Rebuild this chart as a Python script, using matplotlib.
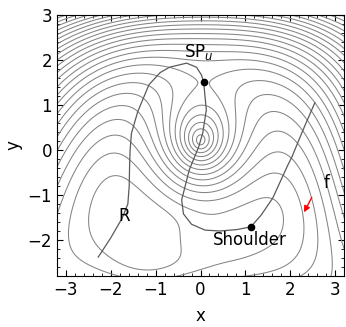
import numpy as np
import matplotlib
matplotlib.use("Agg")
import matplotlib.pyplot as plt
from matplotlib.ticker import MultipleLocator

# ---- potential level readings (x, y, level index counted up from minimum R) ----
lev_pts = [
    (-1.75, -1.50, 0.0), (-1.00, -1.60, 0.7), (-2.00, -1.00, 0.6),
    # first closed contour around R
    (-0.58, -1.95, 1), (-1.72, -2.44, 1), (-2.62, -1.33, 1), (-2.10, -0.51, 1), (-1.28, -1.04, 1),
    # second contour (through the shoulder valley, open to the bottom edge)
    (-2.26, -2.80, 2), (-2.93, -1.49, 2), (-2.55, -0.38, 2), (-2.10, -0.11, 2), (-1.60, -0.30, 2),
    (-0.80, -1.00, 2), (0.00, -1.27, 2), (1.40, -1.00, 2), (1.81, -1.60, 2), (1.10, -2.24, 2),
    (-0.50, -2.78, 2),
    # valley floor / shoulder
    (0.00, -2.00, 1.5), (1.12, -1.71, 1.7), (0.50, -1.80, 1.6), (-0.30, -2.30, 1.6),
    (-0.35, -1.90, 1.3),
    # bottom edge
    (-1.70, -2.80, 1.5), (-1.00, -2.80, 1.7), (0.50, -2.80, 2.5),
    # outer contours near the bottom
    (-2.75, -2.80, 3), (-3.09, -1.33, 3), (-2.70, -0.29, 3), (1.34, -2.80, 3), (2.28, -1.44, 3),
    (-3.05, -2.80, 4), (2.00, -2.80, 4), (2.73, -1.44, 4),
    (2.66, -2.80, 5), (3.04, -1.44, 5), (3.00, -2.80, 6),
    # central hill and saddle
    (0.00, 0.20, 15.4), (0.05, 1.50, 7.0), (0.00, -0.90, 4.0),
    (-0.90, 0.20, 7.0), (0.90, 0.20, 7.0),
    # top wall along x = 0
    (0.00, 1.73, 8), (0.00, 1.96, 9), (0.00, 2.27, 11), (0.00, 2.60, 14), (0.00, 2.84, 17),
    (0.00, 3.00, 19.3),
    # top edge
    (-1.00, 3.00, 19.8), (-1.75, 3.00, 21), (-2.50, 3.00, 22.5), (-3.20, 3.00, 24),
    (1.00, 3.00, 19.8), (1.75, 3.00, 21), (2.50, 3.00, 22.5), (3.20, 3.00, 24),
    # upper band
    (-2.00, 2.50, 16.5), (2.00, 2.50, 16.5), (-2.50, 2.00, 14.5), (2.50, 2.00, 15),
    (-1.00, 2.20, 11.5), (1.00, 2.20, 11.5),
    # left edge
    (-3.20, 2.50, 20.5), (-3.20, 2.00, 16.5), (-3.20, 1.00, 11), (-3.20, 0.00, 5.5),
    (-3.20, -1.40, 3.3), (-3.20, -2.80, 4.5),
    # right edge
    (3.20, 2.50, 20.5), (3.20, 2.00, 17), (3.20, 1.00, 13.5), (3.20, 0.00, 10.5), (3.20, -0.80, 7),
    (3.20, -1.44, 5.5), (3.20, -2.80, 6.4),
    # ring valley around the hill
    (-1.60, 0.00, 2.7), (-1.55, 0.50, 3.6), (-1.40, 0.90, 4.5), (-1.15, 1.45, 5.8),
    (-1.00, 1.50, 5.5), (1.00, 1.50, 5.0), (1.40, 0.00, 4.5),
    (2.20, 0.00, 7), (2.80, 0.00, 9.2), (-2.35, 1.00, 8.2),
]
pts_x = [p[0] for p in lev_pts]
pts_y = [p[1] for p in lev_pts]
pts_v = [p[2] for p in lev_pts]
# stationary points: R (minimum), SP_u (saddle)
stat_x = [-1.75, 0.07]
stat_y = [-1.50, 1.51]

# ---- paths (Newton trajectories) ----
pathA_x = [-2.28, -2.00, -1.75, -1.62, -1.59, -1.58, -1.57, -1.54, -1.40, -1.15, -0.90, -0.69,
           -0.31, -0.09, 0.02, 0.07, 0.13, 0.05, -0.04, -0.25, -0.42, -0.38, -0.20, 0.10,
           0.43, 0.80, 1.12]
pathA_y = [-2.38, -1.95, -1.52, -1.20, -0.80, -0.30, 0.00, 0.37, 0.85, 1.45, 1.72, 1.84,
           1.93, 1.84, 1.67, 1.51, 0.89, 0.38, 0.07, -0.44, -1.11, -1.42, -1.65, -1.78,
           -1.80, -1.77, -1.71]
pathB_x = [2.55, 2.31, 2.04, 1.95, 1.61, 1.35, 1.12]
pathB_y = [1.05, 0.50, -0.15, -0.33, -1.07, -1.45, -1.71]

sp_pt = (0.07, 1.51)
sh_pt = (1.12, -1.71)
arrow_tail = (2.51, -1.00)
arrow_head = (2.28, -1.44)

# ---- smooth model surface fitted to the readings ----
def basis(x, y):
    x = np.asarray(x, float); y = np.asarray(y, float)
    cols = []
    for d in range(5):
        for i in range(d + 1):
            cols.append(x**i * y**(d - i))
    rho = np.sqrt(x**2 / 1.0**2 + (y - 0.2)**2 / 1.15**2 + 0.004)
    gR = np.exp(-((x + 1.75)**2 + (y + 1.5)**2) / (2 * 0.55**2))
    gS = np.exp(-((x - 1.3)**2 + (y + 1.9)**2) / (2 * 0.5**2))
    gB = np.exp(-((x + 1.2)**2 / (2 * 0.7**2) + (y + 2.8)**2 / (2 * 0.45**2)))
    gV = np.exp(-((x - 0.2)**2 / (2 * 0.6**2) + (y + 2.0)**2 / (2 * 0.35**2)))
    cols += [rho, gR, gS, gB, gV]
    return np.stack(cols, axis=-1)

vals = np.array(pts_v, float)
w = np.where(vals <= 3.0, 3.0, 1.0)
rows = [basis(pts_x, pts_y) * w[:, None]]
rhs = [vals * w]
h = 1e-4
sx = np.array(stat_x); sy = np.array(stat_y)
gx = (basis(sx + h, sy) - basis(sx - h, sy)) / (2 * h)
gy = (basis(sx, sy + h) - basis(sx, sy - h)) / (2 * h)
wgt = 4.0
rows += [gx * wgt, gy * wgt]
rhs += [np.zeros(len(sx)), np.zeros(len(sx))]
A = np.vstack(rows); b = np.concatenate(rhs)
coef, *_ = np.linalg.lstsq(A, b, rcond=None)

xs = np.linspace(-3.25, 3.25, 400)
ys = np.linspace(-2.85, 3.05, 400)
X, Y = np.meshgrid(xs, ys)
V = basis(X, Y) @ coef

# ---- figure ----
fig = plt.figure(figsize=(3.46, 3.27), dpi=100)
ax = fig.add_axes([57 / 346, 1 - 276 / 327, (344 - 57) / 346, (276 - 15) / 327])
ax.contour(X, Y, V, levels=np.arange(1, 45, 1.0), colors="#858585", linewidths=0.75,
           linestyles="solid")
ax.plot(pathA_x, pathA_y, color="#5a5a5a", lw=0.9)
ax.plot(pathB_x, pathB_y, color="#5a5a5a", lw=0.9)
ax.plot(*sp_pt, "o", color="black", ms=4.5)
ax.plot(*sh_pt, "o", color="black", ms=4.5)
ax.annotate("", xy=arrow_head, xytext=arrow_tail,
            arrowprops=dict(arrowstyle="-|>", color="red", lw=1.0, mutation_scale=9))
fs = 12
ax.text(-0.03, 2.18, "SP$_u$", fontsize=fs, ha="center", va="center")
ax.text(-1.71, -1.46, "R", fontsize=fs, ha="center", va="center")
ax.text(1.11, -2.0, "Shoulder", fontsize=fs, ha="center", va="center")
ax.text(2.82, -0.73, "f", fontsize=fs, ha="center", va="center")

ax.set_xlim(-3.2, 3.2)
ax.set_ylim(-2.8, 3.0)
ax.set_xticks(np.arange(-3, 4))
ax.set_yticks(np.arange(-2, 4))
ax.xaxis.set_minor_locator(MultipleLocator(0.2))
ax.yaxis.set_minor_locator(MultipleLocator(0.2))
ax.tick_params(which="both", direction="in", top=True, right=True, labelsize=fs)
ax.tick_params(which="major", length=4, width=0.8)
ax.tick_params(which="minor", length=2, width=0.6)
ax.set_xlabel("x", fontsize=fs, labelpad=6)
ax.set_ylabel("y", fontsize=fs, labelpad=4)
fig.savefig("out.png", dpi=100)
